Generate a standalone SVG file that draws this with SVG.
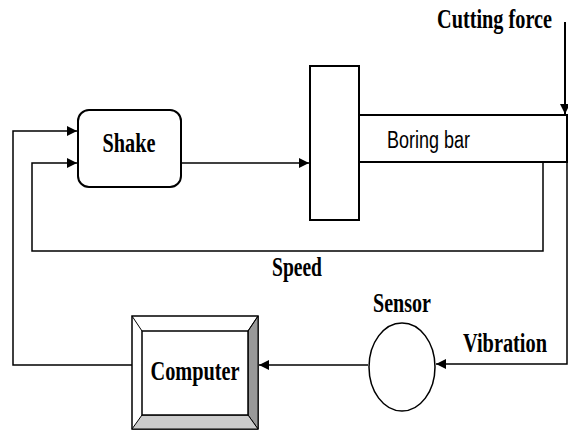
<svg xmlns="http://www.w3.org/2000/svg" width="568" height="430" viewBox="0 0 568 430">
<style>
.ln{fill:none;stroke:#000;stroke-width:2}
.thin{fill:none;stroke:#000;stroke-width:1.5}
.lbl{font-family:"Liberation Serif",serif;font-weight:bold;fill:#000;font-size:21px}
.bar{font-family:"Liberation Sans",sans-serif;fill:#000}
</style>
<defs>
<marker id="ah" viewBox="0 0 10 10" refX="10" refY="5" markerWidth="10" markerHeight="10" markerUnits="userSpaceOnUse" orient="auto">
<path d="M0,0 L10,5 L0,10 z" fill="#000"/>
</marker>
</defs>
<rect width="568" height="430" fill="#fff"/>
<g id="connectors">
<path class="thin" d="M132,365 H13 V131 H77" marker-end="url(#ah)"/>
<path class="thin" d="M543,162 V251 H32 V163 H77" marker-end="url(#ah)"/>
<path class="thin" d="M182,163 H309" marker-end="url(#ah)"/>
<path class="ln" d="M565,22 V114" marker-end="url(#ah)"/>
<path class="thin" d="M567,162 V364 H436" marker-end="url(#ah)"/>
<path class="thin" d="M368,365 H259" marker-end="url(#ah)"/>
</g>
<g id="shake">
<rect x="78" y="110" width="103" height="77" rx="11" class="ln" fill="#fff"/>
<text class="lbl" transform="translate(129,152) scale(1,1.3)" text-anchor="middle" textLength="53" lengthAdjust="spacingAndGlyphs">Shake</text>
</g>
<g id="block">
<rect x="310" y="66" width="49" height="154" class="ln" fill="#fff"/>
</g>
<g id="boring-bar">
<path class="ln" d="M359,115 H567 V162 H359"/>
<text class="bar" x="387" y="148" font-size="23" textLength="83" lengthAdjust="spacingAndGlyphs">Boring bar</text>
</g>
<g id="cutting-force">
<text class="lbl" transform="translate(437,28) scale(1,1.3)" textLength="115" lengthAdjust="spacingAndGlyphs">Cutting force</text>
</g>
<g id="speed">
<text class="lbl" transform="translate(272,276) scale(1,1.3)" textLength="50" lengthAdjust="spacingAndGlyphs">Speed</text>
</g>
<g id="computer">
<rect x="132" y="316" width="126" height="113" fill="#fff" stroke="#000" stroke-width="1.5"/>
<polygon points="248,331 258,316 258,429 248,415" fill="#999" stroke="#000" stroke-width="1"/>
<polygon points="142,415 248,415 258,429 132,429" fill="#ccc" stroke="#000" stroke-width="1"/>
<line x1="132" y1="316" x2="142" y2="331" stroke="#000" stroke-width="1"/>
<line x1="258" y1="316" x2="248" y2="331" stroke="#000" stroke-width="1"/>
<rect x="142" y="331" width="106" height="84" fill="#fff" stroke="#000" stroke-width="1.5"/>
<text class="lbl" transform="translate(195,380) scale(1,1.35)" text-anchor="middle" textLength="89" lengthAdjust="spacingAndGlyphs">Computer</text>
</g>
<g id="sensor">
<ellipse cx="402" cy="367" rx="33" ry="44" fill="#fff" stroke="#000" stroke-width="1.5"/>
<text class="lbl" transform="translate(402,312) scale(1,1.3)" text-anchor="middle" textLength="58" lengthAdjust="spacingAndGlyphs">Sensor</text>
</g>
<g id="vibration">
<text class="lbl" transform="translate(463,352) scale(1,1.3)" textLength="84" lengthAdjust="spacingAndGlyphs">Vibration</text>
</g>
</svg>
